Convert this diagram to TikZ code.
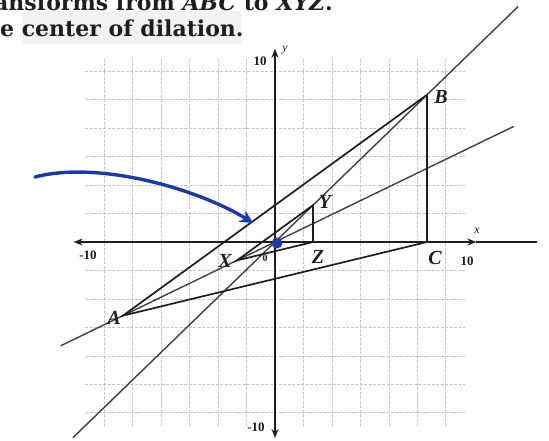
\documentclass[tikz,border=0pt]{standalone}
\usepackage{fontspec}
\setmainfont{Liberation Serif}
\newfontfamily\hdrfont{DejaVu Serif}
\usetikzlibrary{calc,arrows.meta}
\definecolor{penblue}{HTML}{1E3A9E}
\definecolor{ink}{HTML}{1E1E1E}
\tikzset{
  gridline/.style={gray!45, line width=0.6pt, dash pattern=on 3pt off 1.5pt},
  axisline/.style={ink, line width=1.8pt},
  seg/.style={ink, line width=1.7pt},
  ray/.style={ink!85, line width=1.4pt},
  ptlabel/.style={inner sep=0pt, font=\fontsize{20}{20}\selectfont\bfseries\itshape, text=ink},
  ticklabel/.style={inner sep=0pt, font=\fontsize{13}{13}\selectfont\bfseries, text=ink},
  axlabel/.style={inner sep=0pt, font=\fontsize{12}{12}\selectfont\itshape, text=ink},
  hdr/.style={anchor=base west, inner sep=0pt, font=\hdrfont\bfseries\fontsize{22}{24}\selectfont, text=ink}
}
\begin{document}
\begin{tikzpicture}[x=1pt,y=-1pt]
\clip (0,0) rectangle (549,440);
\fill[white] (0,0) rectangle (549,440);
% header text (cut off by the photo edge)
\fill[gray!10] (22,11) rectangle (241,44);
\node[hdr] (hdrone) at (-6,10) {ansforms from \textit{ABC} to \textit{XYZ}.};
\node[hdr] (hdrtwo) at (0,36) {e center of dilation.};
% coordinate plane
\begin{scope}[shift={(275pt,-242pt)}, x=19pt, y=18.4pt]
  \draw[gridline] (-10,-10) grid (10,10);
  \coordinate (O) at (0,0);
  \coordinate (A) at (-8,-4);
  \coordinate (B) at (8,8);
  \coordinate (C) at (8,0);
  \coordinate (X) at (-2,-1);
  \coordinate (Y) at (2,2);
  \coordinate (Z) at (2,0);
  \coordinate (xl) at (-10.6,0);
  \coordinate (xr) at (10.6,0);
  \coordinate (xe) at (13.8,0);
  \coordinate (yb) at (0,-10.65);
  \coordinate (yt) at (0,10.5);
  % axes
  \draw[axisline, {Stealth[length=9pt,width=7pt]}-{Stealth[length=9pt,width=7pt]}] (xl) -- (xr);
  \draw[axisline] (xr) -- (xe);
  \draw[axisline, {Stealth[length=9pt,width=7pt]}-{Stealth[length=9pt,width=7pt]}] (yb) -- (yt);
  % rays through the center
  \draw[ray] ($(O)!-1.33!(B)$) -- ($(O)!1.6!(B)$);
  \draw[ray] ($(O)!1.41!(A)$) -- ($(O)!-1.57!(A)$);
  % triangles
  \draw[seg] (A) -- (B) -- (C) -- cycle;
  \draw[seg] (X) -- (Y) -- (Z) -- cycle;
\end{scope}
% tick and axis labels
\node[ticklabel] (t10top) at (260,61) {10};
\node[ticklabel] (tm10bot) at (256,427) {-10};
\node[ticklabel] (tm10left) at (88,255) {-10};
\node[ticklabel] (t10right) at (467,261) {10};
\node[inner sep=0pt, font=\fontsize{10}{10}\selectfont\bfseries, text=ink] (t0) at (265,258) {0};
\node[axlabel] (ylab) at (285,50) {y};
\node[axlabel] (xlab) at (477,231) {x};
% point labels
\node[ptlabel] (lA) at (114,318) {A};
\node[ptlabel] (lB) at (441,97) {B};
\node[ptlabel] (lC) at (435,258) {C};
\node[ptlabel] (lX) at (225,261) {X};
\node[ptlabel] (lY) at (325,202) {Y};
\node[ptlabel] (lZ) at (318,257) {Z};
% blue pen marks
\coordinate (arrS) at (35,177);
\coordinate (arrE) at (253,223);
\draw[penblue, line width=3.4pt, line cap=round, -{Stealth[length=13pt,width=13pt]}]
  (arrS) .. controls (100,160) and (200,190) .. (arrE);
\fill[penblue] (277,243) circle (5.5);
\end{tikzpicture}
\end{document}
